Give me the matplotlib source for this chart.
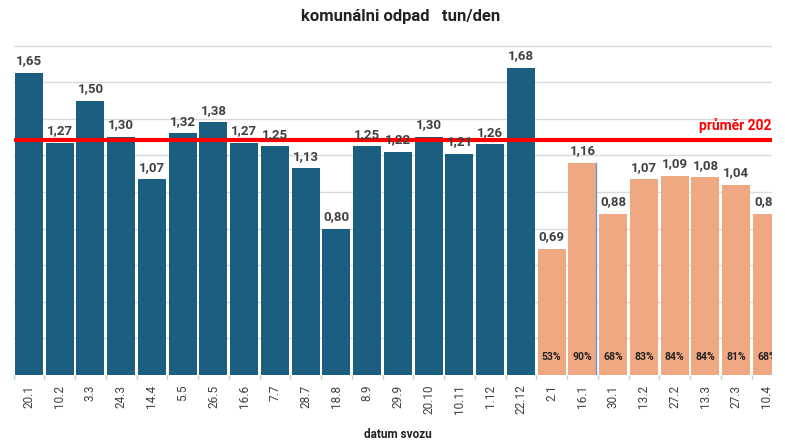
import matplotlib
matplotlib.use("Agg")
import matplotlib.pyplot as plt

dates = ["20.1", "10.2", "3.3", "24.3", "14.4", "5.5", "26.5", "16.6", "7.7", "28.7",
         "18.8", "8.9", "29.9", "20.10", "10.11", "1.12", "22.12",
         "2.1", "16.1", "30.1", "13.2", "27.2", "13.3", "27.3", "10.4"]
values_2023 = [1.65, 1.27, 1.50, 1.30, 1.07, 1.32, 1.38, 1.27, 1.25, 1.13,
               0.80, 1.25, 1.22, 1.30, 1.21, 1.26, 1.68]
values_2024 = [0.69, 1.16, 0.88, 1.07, 1.09, 1.08, 1.04, 0.88]
pct_2024 = ["53%", "90%", "68%", "83%", "84%", "84%", "81%", "68%"]
average_2023 = 1.286
avg_label = "průměr 2023"

BLUE = "#1A5E80"
ORANGE = "#F0A882"
LABEL = "#404040"
FONT = ["Roboto", "DejaVu Sans"]

W, H = 785, 443
fig = plt.figure(figsize=(W / 100, H / 100), dpi=100)

left_px, right_px = 13.6, 772
pitch = 30.75
base_px = 375
ylim_top = 1.9
px_per_unit = 183
top_px = base_px - ylim_top * px_per_unit
ax = fig.add_axes([left_px / W, 1 - base_px / H, (right_px - left_px) / W, (base_px - top_px) / H])

n23 = len(values_2023)
x23 = list(range(n23))
x24 = list(range(n23, n23 + len(values_2024)))
width = 0.91

ax.bar(x23, values_2023, width=width, color=BLUE, zorder=2)
ax.bar(x24, values_2024, width=width, color=ORANGE, zorder=2)

for x, v in zip(x23 + x24, values_2023 + values_2024):
    ax.annotate(f"{v:.2f}".replace(".", ","), (x, v), xytext=(0, 4), textcoords="offset points",
                ha="center", va="bottom", fontsize=9.5, fontweight="bold", color=LABEL,
                family=FONT, annotation_clip=False, clip_on=True, zorder=4)

for x, p in zip(x24, pct_2024):
    ax.text(x, 0.098, p, ha="center", va="center", fontsize=7.5, fontweight="bold",
            color="#222222", family=FONT, zorder=4, clip_on=True)

ax.axhline(average_2023, color="#FF0000", lw=3, zorder=3)

# thin blue line artifact at right edge of the 16.1 bar
ax.plot([18 + width / 2, 18 + width / 2], [0, values_2024[1]], color="#5B9BD5", lw=1, zorder=3)

ax.set_yticks([0.2 * i for i in range(1, 10)])
ax.yaxis.grid(True, color="#D9D9D9", lw=1, zorder=0)
ax.tick_params(axis="y", left=False, labelleft=False)

ax.set_xticks(x23 + x24)
ax.set_xticklabels(dates, rotation=90, fontsize=8.5, color=LABEL, family=FONT)
ax.tick_params(axis="x", length=0, pad=7)
ax.set_xticks([i - 0.5 for i in range(len(dates) + 1)], minor=True)
ax.tick_params(axis="x", which="minor", length=3, color="#A8E0A0", width=1)

x_right = -0.5 + (right_px - left_px) / pitch
ax.set_xlim(-0.5, x_right)
ax.set_ylim(0, ylim_top)

ax.text(-0.5 + (699 - left_px) / pitch, average_2023 + 0.035, avg_label, color="#FF0000",
        fontsize=10, fontweight="bold", family=FONT, ha="left", va="bottom", zorder=4, clip_on=True)

for s in ax.spines.values():
    s.set_visible(False)

fig.text(401 / W, 1 - 17 / H, "komunálni odpad   tun/den", ha="center", va="center",
         fontsize=12, fontweight="bold", color="#222222", family=FONT)
fig.text(398 / W, 1 - 435 / H, "datum svozu", ha="center", va="center",
         fontsize=8.5, fontweight="bold", color="#222222", family=FONT)

fig.savefig("out.png", dpi=100)
